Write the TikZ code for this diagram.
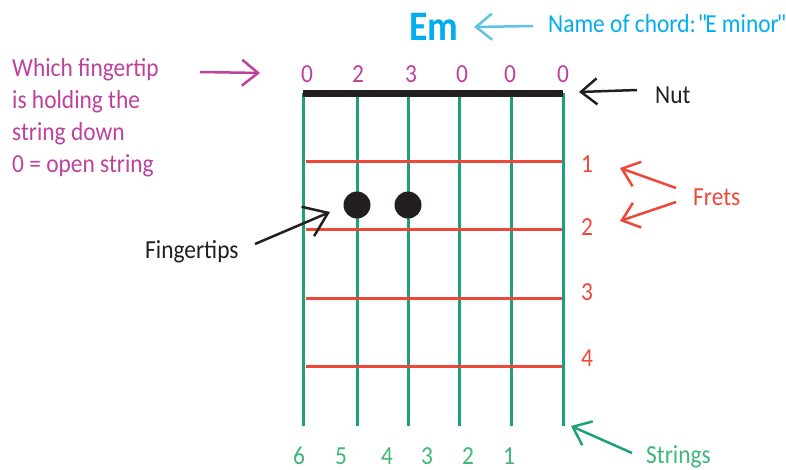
\documentclass[tikz,border=0pt]{standalone}
\usepackage{fontspec}
\setmainfont{Carlito}[FakeStretch=0.9]
\usetikzlibrary{arrows.meta}
\definecolor{chordpink}{RGB}{190,65,155}
\definecolor{chordcyan}{RGB}{0,174,239}
\definecolor{arrowcyan}{RGB}{95,196,224}
\definecolor{fretred}{RGB}{239,72,58}
\definecolor{stringgreen}{RGB}{30,160,125}
\definecolor{numgreen}{RGB}{62,184,120}
\definecolor{back}{RGB}{35,31,32}
\frenchspacing

\begin{document}
\begin{tikzpicture}[x=1pt,y=-1pt,
    lbl/.style={font=\fontsize{26}{32}\selectfont,inner sep=0pt,anchor=base},
    arr/.style={line width=2.5pt,-{Straight Barb[length=16pt,width=26pt,line width=2.5pt]}},
    stringline/.style={stringgreen,line width=3pt},
    fretline/.style={fretred,line width=3pt},
    dot/.style={circle,fill=back,minimum size=27pt,inner sep=0pt}]
    \useasboundingbox (0,0) rectangle (786,469);

    % strings and frets
    \foreach \x [count=\i] in {303,357,408,459,511,563}
        \draw[stringline] (\x,93) -- (\x,426);
    \foreach \y in {161,229,298,366}
        \draw[fretline] (306,\y) -- (562,\y);
    \draw[back,line width=7pt] (303,93) -- (563,93);

    % fingertips
    \node[dot] (dotA) at (357,205) {};
    \node[dot] (dotB) at (408,205) {};

    % numbers
    \foreach \x/\n [count=\i] in {307/0,358/2,411/3,462/0,510/0,563/0}
        \node[lbl,text=chordpink] (top\i) at (\x,82) {\n};
    \foreach \y/\n in {172/1,235/2,300/3,366/4}
        \node[lbl,text=fretred] (fret\n) at (587,\y) {\n};
    \foreach \x/\n in {299/6,341/5,387/4,427/3,468/2,509/1}
        \node[lbl,text=numgreen] (str\n) at (\x,464) {\n};

    % labels
    \node[lbl,text=chordcyan,font=\bfseries\fontsize{42}{42}\selectfont] (em) at (434,40) {Em};
    \node[lbl,anchor=base west,text=chordcyan] (chordname) at (548,32)
        {Name of chord:\hspace{2pt}\textquotedbl\kern-3pt E minor\kern-2pt\textquotedbl};
    \node[lbl,anchor=base west,text=chordpink,align=left] (which) at (12,172)
        {Which fingertip\\is holding the\\string down\\0 = open string};
    \node[lbl,anchor=base west,text=back] (nut) at (655,103) {Nut};
    \node[lbl,anchor=base west,text=fretred] (frets) at (693,205) {Frets};
    \node[lbl,anchor=base west,text=back] (tips) at (145,258) {Fingertips};
    \node[lbl,anchor=base west,text=numgreen] (strings) at (646,463) {Strings};

    % arrows
    \coordinate (emtail) at (533,26);   \coordinate (emtip) at (474,27);
    \coordinate (nuttail) at (637,90);  \coordinate (nuttip) at (579,92);
    \coordinate (whtail) at (200,72);   \coordinate (whtip) at (260,73);
    \coordinate (tiptail) at (255,244); \coordinate (tiptip) at (330,212);
    \coordinate (frtail) at (676,188);  \coordinate (frtipA) at (620,168);
    \coordinate (frtailB) at (676,202); \coordinate (frtipB) at (620,221);
    \coordinate (sttail) at (632,453);  \coordinate (sttip) at (571,426);
    \draw[arr,arrowcyan] (emtail) -- (emtip);
    \draw[arr,back] (nuttail) -- (nuttip);
    \draw[arr,chordpink] (whtail) -- (whtip);
    \draw[back,line width=2.5pt,-{Straight Barb[length=22pt,width=32pt,line width=2.5pt]}] (tiptail) -- (tiptip);
    \draw[arr,fretred] (frtail) -- (frtipA);
    \draw[arr,fretred] (frtailB) -- (frtipB);
    \draw[arr,stringgreen] (sttail) -- (sttip);
\end{tikzpicture}
\end{document}
